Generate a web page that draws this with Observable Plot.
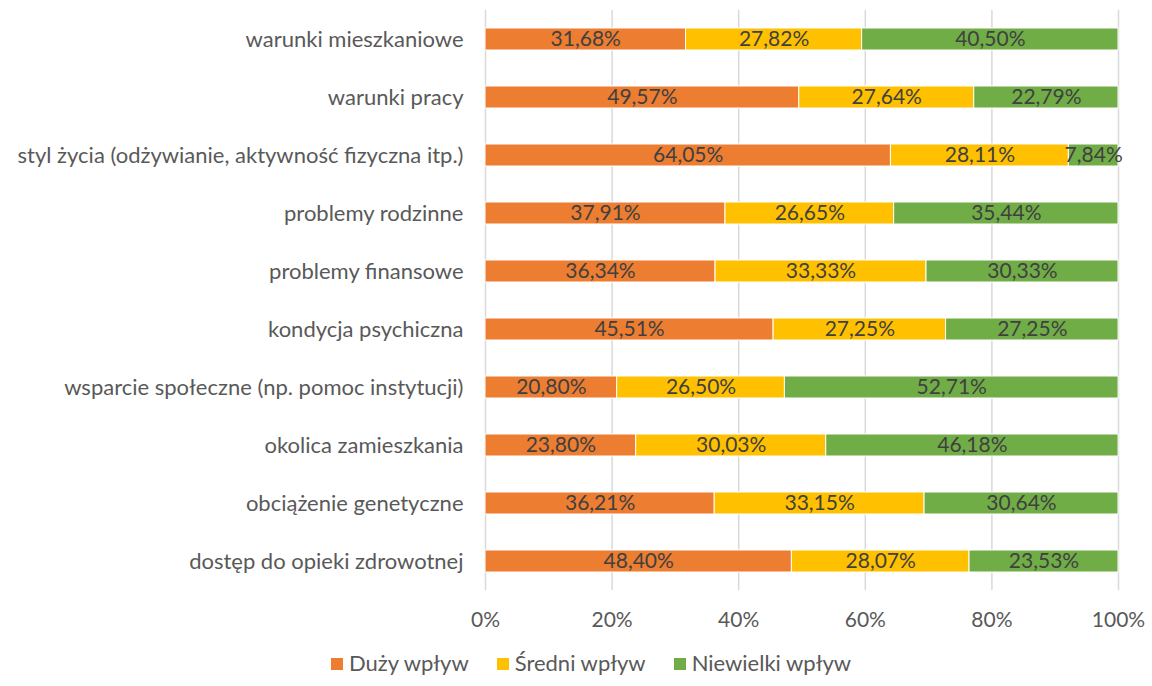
<!DOCTYPE html>
<html><head><meta charset="utf-8">
<script src="https://cdn.jsdelivr.net/npm/d3@7"></script>
<script src="https://cdn.jsdelivr.net/npm/@observablehq/plot@0.6"></script>
<style>
body{margin:0;background:#fff;font-family:Lato,"Open Sans",sans-serif;}
#legend{display:flex;justify-content:center;gap:28px;font-size:22px;color:#595959;margin-top:4px;padding-left:30px}
#legend span.sw{display:inline-block;width:12px;height:12px;margin-right:6px;vertical-align:middle;position:relative;top:-1px}
</style></head>
<body><div id="chart"></div><div id="legend"></div>
<script>
const categories = [
  "warunki mieszkaniowe",
  "warunki pracy",
  "styl życia (odżywianie, aktywność fizyczna itp.)",
  "problemy rodzinne",
  "problemy finansowe",
  "kondycja psychiczna",
  "wsparcie społeczne (np. pomoc instytucji)",
  "okolica zamieszkania",
  "obciążenie genetyczne",
  "dostęp do opieki zdrowotnej"
];
const series = ["Duży wpływ", "Średni wpływ", "Niewielki wpływ"];
const colors = ["#ED7D31", "#FFC000", "#70AD47"];
const duzy =      [31.68, 49.57, 64.05, 37.91, 36.34, 45.51, 20.80, 23.80, 36.21, 48.40];
const sredni =    [27.82, 27.64, 28.11, 26.65, 33.33, 27.25, 26.50, 30.03, 33.15, 28.07];
const niewielki = [40.50, 22.79, 7.84, 35.44, 30.33, 27.25, 52.71, 46.18, 30.64, 23.53];
const xTicks = [0, 20, 40, 60, 80, 100];

const vals = [duzy, sredni, niewielki];
const data = [];
categories.forEach((c, i) => series.forEach((s, j) => data.push({cat: c, series: s, value: vals[j][i]})));
const fmt = v => v.toFixed(2).replace(".", ",") + "%";

const chart = Plot.plot({
  width: 1152, height: 645,
  marginLeft: 485, marginRight: 34, marginTop: 10, marginBottom: 55,
  style: {fontFamily: "Lato, 'Open Sans', sans-serif", fontSize: "22px", color: "#595959", background: "#fff"},
  x: {domain: [0, 100], ticks: xTicks, tickFormat: d => d + "%", label: null, tickSize: 0, tickPadding: 20},
  y: {domain: categories, label: null, tickSize: 0, tickPadding: 22, paddingInner: 0.62, paddingOuter: 0.31},
  color: {domain: series, range: colors},
  marks: [
    Plot.ruleX(xTicks, {stroke: "#d9d9d9", strokeWidth: 1.5}),
    Plot.barX(data, Plot.stackX({x: "value", y: "cat", fill: "series", stroke: "#fff", strokeWidth: 1, order: series})),
    Plot.text(data, Plot.stackX({x: "value", y: "cat", z: "series", order: series, text: d => fmt(d.value), fill: "#404040", fontSize: 21})),
    Plot.axisX({ticks: xTicks, tickFormat: d => d + "%", tickSize: 0, tickPadding: 22, fontSize: 21, label: null}),
    Plot.axisY({tickSize: 0, tickPadding: 22, fontSize: 22, label: null})
  ]
});
document.getElementById("chart").append(chart);
const lg = document.getElementById("legend");
series.forEach((s, i) => {
  const d = document.createElement("div");
  d.innerHTML = `<span class="sw" style="background:${colors[i]}"></span>${s}`;
  lg.append(d);
});
</script></body></html>
